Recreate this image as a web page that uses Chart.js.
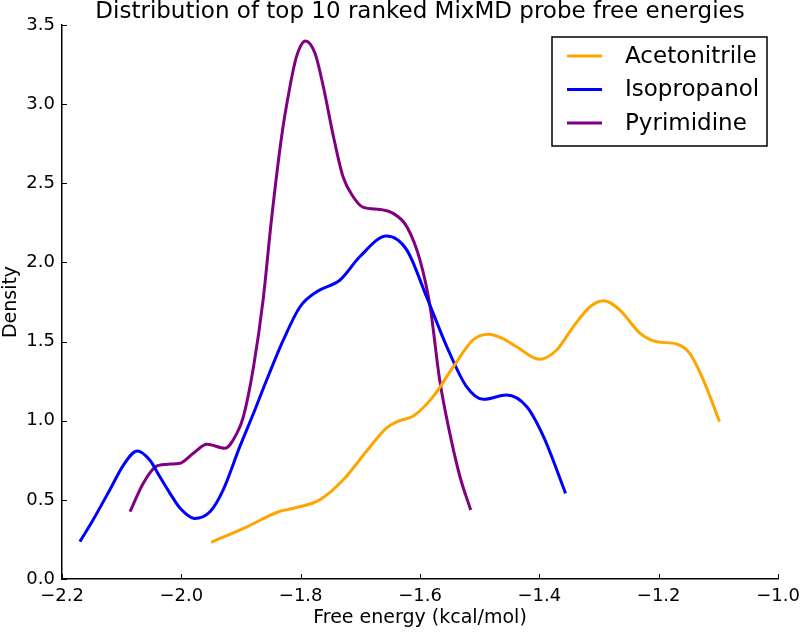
<!DOCTYPE html>
<html>
<head>
<meta charset="utf-8">
<script src="https://cdn.jsdelivr.net/npm/chart.js@4.4.1/dist/chart.umd.min.js"></script>
<style>
  html, body { margin: 0; padding: 0; background: #fff; }
  #wrap { width: 800px; height: 632px; }
</style>
</head>
<body>
<div id="wrap"><canvas id="kde" width="800" height="632"></canvas></div>
<script>
// ── Data ────────────────────────────────────────────────────────
const title = 'Distribution of top 10 ranked MixMD probe free energies';
const xTicks = [-2.2, -2.0, -1.8, -1.6, -1.4, -1.2, -1.0];
const yTicks = [0.0, 0.5, 1.0, 1.5, 2.0, 2.5, 3.0, 3.5];

const acetoX = [-1.950, -1.890, -1.837, -1.812, -1.768, -1.729, -1.689, -1.656, -1.634, -1.611, -1.578, -1.544, -1.511, -1.485, -1.462, -1.438, -1.400, -1.371, -1.343, -1.315, -1.292, -1.265, -1.231, -1.203, -1.170, -1.148, -1.125, -1.098];
const acetoY = [0.232, 0.330, 0.425, 0.447, 0.500, 0.625, 0.810, 0.955, 1.000, 1.030, 1.152, 1.341, 1.510, 1.546, 1.520, 1.467, 1.388, 1.447, 1.594, 1.720, 1.758, 1.699, 1.552, 1.499, 1.485, 1.426, 1.257, 0.994];

const isoX = [-2.170, -2.148, -2.120, -2.097, -2.074, -2.053, -2.036, -2.019, -2.002, -1.978, -1.952, -1.930, -1.902, -1.879, -1.857, -1.829, -1.801, -1.773, -1.734, -1.701, -1.656, -1.622, -1.589, -1.555, -1.522, -1.494, -1.455, -1.421, -1.393, -1.356];
const isoY = [0.236, 0.373, 0.562, 0.720, 0.809, 0.752, 0.646, 0.541, 0.447, 0.383, 0.425, 0.562, 0.836, 1.047, 1.257, 1.510, 1.720, 1.815, 1.889, 2.036, 2.167, 2.078, 1.783, 1.467, 1.215, 1.135, 1.162, 1.088, 0.899, 0.541];

const pyrX = [-2.086, -2.064, -2.041, -2.019, -2.002, -1.980, -1.957, -1.927, -1.907, -1.896, -1.879, -1.863, -1.849, -1.832, -1.818, -1.807, -1.792, -1.776, -1.762, -1.745, -1.729, -1.712, -1.695, -1.667, -1.645, -1.622, -1.600, -1.583, -1.567, -1.550, -1.533, -1.515];
const pyrY = [0.425, 0.604, 0.714, 0.726, 0.731, 0.794, 0.851, 0.826, 0.920, 1.025, 1.341, 1.762, 2.268, 2.794, 3.110, 3.300, 3.399, 3.321, 3.110, 2.794, 2.541, 2.415, 2.348, 2.335, 2.310, 2.226, 2.015, 1.720, 1.257, 0.920, 0.646, 0.436];

const toPts = (xs, ys) => xs.map((x, i) => ({ x, y: ys[i] }));
const fmt = v => (v < 0 ? '\u2212' : '') + Math.abs(v).toFixed(1);
const FONT = 'DejaVu Sans';

// ── Inward ticks, title and legend ───────────────────────────────
const decor = {
  id: 'decor',
  afterDraw(chart) {
    const { ctx, chartArea: a, scales: { x, y } } = chart;
    ctx.save();
    ctx.strokeStyle = '#000';
    ctx.lineWidth = 1;
    xTicks.forEach(v => {
      const px = Math.round(x.getPixelForValue(v)) + 0.5;
      ctx.beginPath(); ctx.moveTo(px, a.bottom); ctx.lineTo(px, a.bottom - 5); ctx.stroke();
    });
    yTicks.forEach(v => {
      const py = Math.round(y.getPixelForValue(v)) + 0.5;
      ctx.beginPath(); ctx.moveTo(a.left, py); ctx.lineTo(a.left + 5, py); ctx.stroke();
    });

    ctx.fillStyle = '#000';
    ctx.font = `23px "${FONT}"`;
    ctx.textAlign = 'center';
    ctx.textBaseline = 'alphabetic';
    ctx.fillText(title, (a.left + a.right) / 2, 18);

    // legend box
    const bx = 552, by = 37, bw = 215, bh = 109;
    ctx.lineWidth = 1.5;
    ctx.strokeRect(bx, by, bw, bh);
    ctx.font = `23px "${FONT}"`;
    ctx.textAlign = 'left';
    ctx.textBaseline = 'middle';
    chart.data.datasets.forEach((ds, i) => {
      const ry = 56 + i * 33.5;
      ctx.strokeStyle = ds.borderColor;
      ctx.lineWidth = 3;
      ctx.beginPath(); ctx.moveTo(567, ry); ctx.lineTo(602, ry); ctx.stroke();
      ctx.fillText(ds.label, 625, ry + 1);
    });
    ctx.restore();
  }
};

const line = (label, color, xs, ys) => ({
  label, data: toPts(xs, ys), borderColor: color, backgroundColor: color,
  borderWidth: 3, showLine: true, pointRadius: 0, cubicInterpolationMode: 'monotone', fill: false
});

new Chart(document.getElementById('kde'), {
  type: 'scatter',
  data: {
    datasets: [
      line('Acetonitrile', '#FFA500', acetoX, acetoY),
      line('Isopropanol', '#0000FF', isoX, isoY),
      line('Pyrimidine', '#800080', pyrX, pyrY)
    ]
  },
  options: {
    responsive: false,
    animation: false,
    layout: { padding: { left: 0, right: 22, top: 25, bottom: 0 } },
    plugins: { legend: { display: false }, tooltip: { enabled: false } },
    scales: {
      x: {
        type: 'linear', min: -2.2, max: -1.0,
        afterBuildTicks: s => { s.ticks = xTicks.map(value => ({ value })); },
        afterFit: s => { s.height = 53; s.paddingLeft = 0; s.paddingRight = 0; },
        grid: { display: true, drawOnChartArea: false, drawTicks: false },
        border: { display: true, color: '#000', width: 1.5 },
        ticks: { color: '#000', padding: 7, font: { family: FONT, size: 18 }, callback: fmt, maxRotation: 0 },
        title: { display: true, text: 'Free energy (kcal/mol)', color: '#000', font: { family: FONT, size: 19 }, padding: { top: 0, bottom: 3 } }
      },
      y: {
        type: 'linear', min: 0, max: 3.5,
        afterBuildTicks: s => { s.ticks = yTicks.map(value => ({ value })); },
        afterFit: s => { s.width = 62; },
        grid: { display: true, drawOnChartArea: false, drawTicks: false },
        border: { display: true, color: '#000', width: 1.5 },
        ticks: { color: '#000', padding: 7, font: { family: FONT, size: 18 }, callback: fmt },
        title: { display: true, text: 'Density', color: '#000', font: { family: FONT, size: 19 }, padding: { top: 0, bottom: 0 } }
      }
    }
  },
  plugins: [decor]
});
</script>
</body>
</html>
